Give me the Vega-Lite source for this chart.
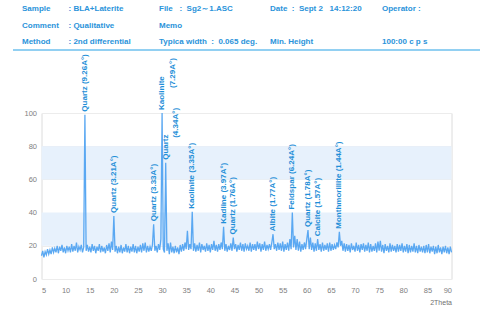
{
  "$schema": "https://vega.github.io/schema/vega-lite/v6.json",
  "padding": {"left": 11, "top": 0, "right": 0, "bottom": 0},
  "background": "white",
  "bounds": "flush",
  "center": true,
  "spacing": 63,
  "config": {
    "font": "Liberation Sans",
    "axis": {"labelFont": "Liberation Sans", "titleFont": "Liberation Sans"},
    "axisX": {"grid": false, "ticks": false, "domain": false, "labelOverlap": false,
      "labelFontSize": 7.5, "labelColor": "#808080", "labelPadding": 7,
      "titleFontSize": 7, "titleFontWeight": "normal", "titleColor": "#707070", "titleAnchor": "end", "titlePadding": 5},
    "axisY": {"grid": true, "gridColor": "#ececec", "ticks": false, "domain": false, "labelOverlap": false,
      "labelFontSize": 7.5, "labelColor": "#808080", "labelPadding": 5}
  },
  "datasets": {
    "header": [
      {"r": 0, "c": 0, "s": "Sample"},
      {"r": 0, "c": 1, "s": ": BLA+Laterite"},
      {"r": 0, "c": 2, "s": "File\u00a0\u00a0\u00a0:\u00a0\u00a0Sg2～1.ASC"},
      {"r": 0, "c": 3, "s": "Date\u00a0\u00a0:\u00a0\u00a0Sept 2\u00a0\u00a0\u00a014:12:20"},
      {"r": 0, "c": 4, "s": "Operator :"},
      {"r": 1, "c": 0, "s": "Comment"},
      {"r": 1, "c": 1, "s": ": Qualitative"},
      {"r": 1, "c": 2, "s": "Memo"},
      {"r": 2, "c": 0, "s": "Method"},
      {"r": 2, "c": 1, "s": ": 2nd differential"},
      {"r": 2, "c": 2, "s": "Typica width\u00a0\u00a0:\u00a0\u00a00.065 deg."},
      {"r": 2, "c": 3, "s": "Min. Height"},
      {"r": 2, "c": 4, "s": "100:00 c p s"}
    ],
    "bands": [{"lo": 20, "hi": 40}, {"lo": 60, "hi": 80}],
    "peaks": [
      {"t": 14, "c": 99, "l1": "Quartz (9.26A°)"},
      {"t": 20, "c": 38, "l1": "Quartz (3.21A°)"},
      {"t": 28.25, "c": 33, "l1": "Quartz (3.33A°)"},
      {"t": 30, "c": 100, "l1": "Kaolinite", "l2": "(7.29A°)"},
      {"t": 30.75, "c": 70, "l1": "Quartz", "l2": "(4.34A°)"},
      {"t": 36.25, "c": 40.5, "l1": "Kaolinite (3.35A°)"},
      {"t": 42.75, "c": 31.5, "l1": "Kadline (3.97A°)"},
      {"t": 44.75, "c": 25, "l1": "Quartz (1.76A°)"},
      {"t": 53, "c": 27, "l1": "Albite (1.77A°)"},
      {"t": 57, "c": 40, "l1": "Feldspar (6.24A°)"},
      {"t": 60.25, "c": 29.5, "l1": "Quartz (1.78A°)"},
      {"t": 62.25, "c": 24, "l1": "Calcite (1.57A°)"},
      {"t": 66.75, "c": 28.5, "l1": "Monthmorillite (1.44A°)"}
    ],
    "scan": [
      {"t":5,"c":14},{"t":5.25,"c":17},{"t":5.5,"c":13},{"t":5.75,"c":16.5},
      {"t":6,"c":14.5},{"t":6.25,"c":18},{"t":6.5,"c":15},{"t":6.75,"c":17.5},
      {"t":7,"c":15},{"t":7.25,"c":19},{"t":7.5,"c":16},{"t":7.75,"c":18.5},
      {"t":8,"c":16},{"t":8.25,"c":20},{"t":8.5,"c":15.5},{"t":8.75,"c":19.5},
      {"t":9,"c":17},{"t":9.25,"c":20.5},{"t":9.5,"c":16},{"t":9.75,"c":19},
      {"t":10,"c":15.5},{"t":10.25,"c":20},{"t":10.5,"c":17},{"t":10.75,"c":19.5},
      {"t":11,"c":16},{"t":11.25,"c":21},{"t":11.5,"c":16.5},{"t":11.75,"c":20},
      {"t":12,"c":17},{"t":12.25,"c":22},{"t":12.5,"c":16},{"t":12.75,"c":19.5},
      {"t":13,"c":17.5},{"t":13.25,"c":20.5},{"t":13.5,"c":16},{"t":13.75,"c":19},
      {"t":14,"c":99},{"t":14.25,"c":17},{"t":14.5,"c":20.5},{"t":14.75,"c":16.5},
      {"t":15,"c":19.5},{"t":15.25,"c":16},{"t":15.5,"c":21},{"t":15.75,"c":17},
      {"t":16,"c":20},{"t":16.25,"c":15.5},{"t":16.5,"c":19.5},{"t":16.75,"c":17},
      {"t":17,"c":21},{"t":17.25,"c":16},{"t":17.5,"c":20},{"t":17.75,"c":16.5},
      {"t":18,"c":19},{"t":18.25,"c":15.5},{"t":18.5,"c":20.5},{"t":18.75,"c":17},
      {"t":19,"c":21.5},{"t":19.25,"c":16},{"t":19.5,"c":22.5},{"t":19.75,"c":17.5},
      {"t":20,"c":38},{"t":20.25,"c":16.5},{"t":20.5,"c":20},{"t":20.75,"c":15.5},
      {"t":21,"c":19.5},{"t":21.25,"c":16},{"t":21.5,"c":20.5},{"t":21.75,"c":15.5},
      {"t":22,"c":19},{"t":22.25,"c":16.5},{"t":22.5,"c":21},{"t":22.75,"c":16},
      {"t":23,"c":20},{"t":23.25,"c":15.5},{"t":23.5,"c":19.5},{"t":23.75,"c":16.5},
      {"t":24,"c":21},{"t":24.25,"c":16},{"t":24.5,"c":20},{"t":24.75,"c":15.5},
      {"t":25,"c":19.5},{"t":25.25,"c":16.5},{"t":25.5,"c":20.5},{"t":25.75,"c":16},
      {"t":26,"c":21.5},{"t":26.25,"c":17},{"t":26.5,"c":22},{"t":26.75,"c":16},
      {"t":27,"c":20},{"t":27.25,"c":16.5},{"t":27.5,"c":19.5},{"t":27.75,"c":17},
      {"t":28,"c":20.5},{"t":28.25,"c":33},{"t":28.5,"c":17},{"t":28.75,"c":20},
      {"t":29,"c":16},{"t":29.25,"c":21},{"t":29.5,"c":17.5},{"t":29.75,"c":24},
      {"t":30,"c":100},{"t":30.25,"c":18},{"t":30.5,"c":16},{"t":30.75,"c":70},
      {"t":31,"c":17},{"t":31.25,"c":21.5},{"t":31.5,"c":15},{"t":31.75,"c":22},
      {"t":32,"c":16},{"t":32.25,"c":19.5},{"t":32.5,"c":15.5},{"t":32.75,"c":20},
      {"t":33,"c":16},{"t":33.25,"c":19},{"t":33.5,"c":15},{"t":33.75,"c":20.5},
      {"t":34,"c":16.5},{"t":34.25,"c":21},{"t":34.5,"c":17},{"t":34.75,"c":22},
      {"t":35,"c":18},{"t":35.25,"c":29},{"t":35.5,"c":17.5},{"t":35.75,"c":21},
      {"t":36,"c":18},{"t":36.25,"c":40.5},{"t":36.5,"c":17},{"t":36.75,"c":21.5},
      {"t":37,"c":16.5},{"t":37.25,"c":20.5},{"t":37.5,"c":17},{"t":37.75,"c":22},
      {"t":38,"c":16},{"t":38.25,"c":21},{"t":38.5,"c":17.5},{"t":38.75,"c":20},
      {"t":39,"c":16.5},{"t":39.25,"c":21.5},{"t":39.5,"c":17},{"t":39.75,"c":20.5},
      {"t":40,"c":16},{"t":40.25,"c":21},{"t":40.5,"c":17.5},{"t":40.75,"c":23},
      {"t":41,"c":17},{"t":41.25,"c":20.5},{"t":41.5,"c":16.5},{"t":41.75,"c":21},
      {"t":42,"c":17.5},{"t":42.25,"c":22},{"t":42.5,"c":18},{"t":42.75,"c":31.5},
      {"t":43,"c":17},{"t":43.25,"c":21},{"t":43.5,"c":16.5},{"t":43.75,"c":20},
      {"t":44,"c":17.5},{"t":44.25,"c":21.5},{"t":44.5,"c":17},{"t":44.75,"c":25},
      {"t":45,"c":18},{"t":45.25,"c":21},{"t":45.5,"c":16.5},{"t":45.75,"c":20.5},
      {"t":46,"c":17.5},{"t":46.25,"c":22},{"t":46.5,"c":17},{"t":46.75,"c":21},
      {"t":47,"c":16.5},{"t":47.25,"c":21.5},{"t":47.5,"c":18},{"t":47.75,"c":20},
      {"t":48,"c":17},{"t":48.25,"c":22},{"t":48.5,"c":16.5},{"t":48.75,"c":21},
      {"t":49,"c":17.5},{"t":49.25,"c":21},{"t":49.5,"c":17},{"t":49.75,"c":22.5},
      {"t":50,"c":18},{"t":50.25,"c":21.5},{"t":50.5,"c":16.5},{"t":50.75,"c":21},
      {"t":51,"c":17.5},{"t":51.25,"c":22.5},{"t":51.5,"c":17},{"t":51.75,"c":20.5},
      {"t":52,"c":18},{"t":52.25,"c":21},{"t":52.5,"c":17.5},{"t":52.75,"c":22},
      {"t":53,"c":27},{"t":53.25,"c":18},{"t":53.5,"c":21},{"t":53.75,"c":17},
      {"t":54,"c":22},{"t":54.25,"c":17.5},{"t":54.5,"c":21.5},{"t":54.75,"c":17},
      {"t":55,"c":22.5},{"t":55.25,"c":16.5},{"t":55.5,"c":21},{"t":55.75,"c":17.5},
      {"t":56,"c":22},{"t":56.25,"c":17},{"t":56.5,"c":24},{"t":56.75,"c":18},
      {"t":57,"c":40},{"t":57.25,"c":19},{"t":57.5,"c":26},{"t":57.75,"c":17.5},
      {"t":58,"c":24},{"t":58.25,"c":17},{"t":58.5,"c":22.5},{"t":58.75,"c":16.5},
      {"t":59,"c":21},{"t":59.25,"c":17.5},{"t":59.5,"c":22},{"t":59.75,"c":18},
      {"t":60,"c":24},{"t":60.25,"c":29.5},{"t":60.5,"c":18},{"t":60.75,"c":25},
      {"t":61,"c":17.5},{"t":61.25,"c":22},{"t":61.5,"c":16.5},{"t":61.75,"c":21.5},
      {"t":62,"c":17},{"t":62.25,"c":24},{"t":62.5,"c":17.5},{"t":62.75,"c":21},
      {"t":63,"c":16.5},{"t":63.25,"c":22},{"t":63.5,"c":17},{"t":63.75,"c":20.5},
      {"t":64,"c":17.5},{"t":64.25,"c":21.5},{"t":64.5,"c":16.5},{"t":64.75,"c":22},
      {"t":65,"c":17},{"t":65.25,"c":21},{"t":65.5,"c":17.5},{"t":65.75,"c":20.5},
      {"t":66,"c":18},{"t":66.25,"c":22},{"t":66.5,"c":19},{"t":66.75,"c":28.5},
      {"t":67,"c":20},{"t":67.25,"c":23},{"t":67.5,"c":17},{"t":67.75,"c":21.5},
      {"t":68,"c":16.5},{"t":68.25,"c":21},{"t":68.5,"c":17},{"t":68.75,"c":20.5},
      {"t":69,"c":16},{"t":69.25,"c":21.5},{"t":69.5,"c":17.5},{"t":69.75,"c":20},
      {"t":70,"c":16.5},{"t":70.25,"c":22},{"t":70.5,"c":17},{"t":70.75,"c":20.5},
      {"t":71,"c":16},{"t":71.25,"c":21},{"t":71.5,"c":17.5},{"t":71.75,"c":21.5},
      {"t":72,"c":16.5},{"t":72.25,"c":20.5},{"t":72.5,"c":17},{"t":72.75,"c":22},
      {"t":73,"c":16},{"t":73.25,"c":21},{"t":73.5,"c":16.5},{"t":73.75,"c":20},
      {"t":74,"c":17},{"t":74.25,"c":21.5},{"t":74.5,"c":16},{"t":74.75,"c":22.5},
      {"t":75,"c":17},{"t":75.25,"c":23},{"t":75.5,"c":16.5},{"t":75.75,"c":20.5},
      {"t":76,"c":15.5},{"t":76.25,"c":21},{"t":76.5,"c":17},{"t":76.75,"c":20},
      {"t":77,"c":16},{"t":77.25,"c":21.5},{"t":77.5,"c":16.5},{"t":77.75,"c":20.5},
      {"t":78,"c":17},{"t":78.25,"c":20},{"t":78.5,"c":16},{"t":78.75,"c":21},
      {"t":79,"c":16.5},{"t":79.25,"c":20.5},{"t":79.5,"c":17},{"t":79.75,"c":21.5},
      {"t":80,"c":16},{"t":80.25,"c":20},{"t":80.5,"c":16.5},{"t":80.75,"c":21},
      {"t":81,"c":15.5},{"t":81.25,"c":20.5},{"t":81.5,"c":16},{"t":81.75,"c":20},
      {"t":82,"c":16.5},{"t":82.25,"c":21.5},{"t":82.5,"c":16},{"t":82.75,"c":20},
      {"t":83,"c":15.5},{"t":83.25,"c":20.5},{"t":83.5,"c":16.5},{"t":83.75,"c":19.5},
      {"t":84,"c":16},{"t":84.25,"c":20},{"t":84.5,"c":15.5},{"t":84.75,"c":20.5},
      {"t":85,"c":16},{"t":85.25,"c":21},{"t":85.5,"c":15.5},{"t":85.75,"c":19.5},
      {"t":86,"c":16.5},{"t":86.25,"c":20},{"t":86.5,"c":15},{"t":86.75,"c":19.5},
      {"t":87,"c":15.5},{"t":87.25,"c":20.5},{"t":87.5,"c":16},{"t":87.75,"c":19},
      {"t":88,"c":15},{"t":88.25,"c":19.5},{"t":88.5,"c":16},{"t":88.75,"c":20},
      {"t":89,"c":15.5},{"t":89.25,"c":19},{"t":89.5,"c":15},{"t":89.75,"c":19.5},
      {"t":90,"c":16}
    ]
  },
  "vconcat": [
    {
      "width": 467,
      "height": 49,
      "view": {"stroke": "transparent"},
      "layer": [
        {
          "data": {"name": "header"},
          "mark": {"type": "text", "align": "left", "baseline": "middle", "fontSize": 8, "fontWeight": "bold", "color": "#2a93da"},
          "encoding": {
            "x": {"field": "c", "type": "quantitative", "axis": null, "scale": {"domain": [0, 1, 2, 3, 4], "range": [9, 55.5, 146, 257, 369]}},
            "y": {"field": "r", "type": "ordinal", "axis": null, "scale": {"type": "point", "paddingOuter": 0.72}},
            "text": {"field": "s"}
          }
        },
        {
          "data": {"values": [{}]},
          "mark": {"type": "rule", "color": "#6ec1ee", "strokeWidth": 1.5},
          "encoding": {"y": {"value": "height"}}
        }
      ]
    },
    {
      "width": 410,
      "height": 166,
      "view": {"stroke": "#dcdcdc"},
      "layer": [
        {
          "data": {"name": "bands"},
          "mark": {"type": "rect", "color": "#e7f1fc"},
          "encoding": {
            "x": {"datum": 5, "type": "quantitative", "title": "2Theta", "scale": {"domain": [5, 90], "nice": false},
              "axis": {"values": [5,10,15,20,25,30,35,40,45,50,55,60,65,70,75,80,85,90], "labelOverlap": false}},
            "x2": {"datum": 90},
            "y": {"field": "lo", "type": "quantitative", "title": null, "scale": {"domain": [0, 100], "nice": false},
              "axis": {"values": [0,20,40,60,80,100], "labelOverlap": false}},
            "y2": {"field": "hi"}
          }
        },
        {
          "data": {"name": "scan"},
          "mark": {"type": "line", "color": "#5aa8f2", "strokeWidth": 1.3},
          "encoding": {
            "x": {"field": "t", "type": "quantitative", "title": "2Theta",
              "axis": {"values": [5,10,15,20,25,30,35,40,45,50,55,60,65,70,75,80,85,90], "labelOverlap": false}},
            "y": {"field": "c", "type": "quantitative", "title": null,
              "axis": {"values": [0,20,40,60,80,100], "labelOverlap": false}}
          }
        },
        {
          "data": {"name": "peaks"},
          "mark": {"type": "text", "angle": 270, "align": "left", "baseline": "middle", "dx": 3, "fontSize": 8, "fontWeight": "bold", "color": "#1f8fd8"},
          "encoding": {
            "x": {"field": "t", "type": "quantitative", "title": "2Theta",
              "axis": {"values": [5,10,15,20,25,30,35,40,45,50,55,60,65,70,75,80,85,90], "labelOverlap": false}},
            "y": {"field": "c", "type": "quantitative", "title": null,
              "axis": {"values": [0,20,40,60,80,100], "labelOverlap": false}},
            "text": {"field": "l1"}
          }
        },
        {
          "data": {"name": "peaks"},
          "transform": [{"filter": "isValid(datum.l2)"}],
          "mark": {"type": "text", "angle": 270, "align": "left", "baseline": "middle", "dx": 25, "dy": 10.5, "fontSize": 8, "fontWeight": "bold", "color": "#1f8fd8"},
          "encoding": {
            "x": {"field": "t", "type": "quantitative", "title": "2Theta",
              "axis": {"values": [5,10,15,20,25,30,35,40,45,50,55,60,65,70,75,80,85,90], "labelOverlap": false}},
            "y": {"field": "c", "type": "quantitative", "title": null,
              "axis": {"values": [0,20,40,60,80,100], "labelOverlap": false}},
            "text": {"field": "l2"}
          }
        }
      ]
    }
  ]
}
